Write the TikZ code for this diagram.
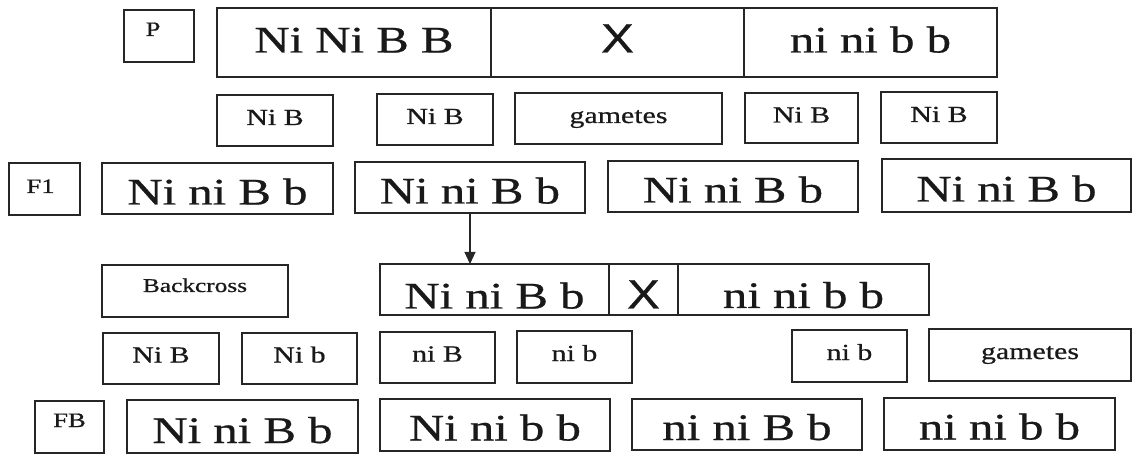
\documentclass[tikz,border=0pt]{standalone}
\usepackage{fontspec}
\usetikzlibrary{arrows.meta}
\newfontfamily\genefont[FakeStretch=1.3,FakeBold=0.7]{Liberation Serif}
\newfontfamily\signfont[FakeStretch=1.2,FakeBold=0.7]{Liberation Sans}
% \cell[options]{name}{x1}{y1}{x2}{y2}{text}: a framed cell spanning the given corners
\newcommand\cell[7][]{%
  \node[cellbox,#1,minimum width={#5-#3},minimum height={#6-#4}] (#2)
    at ({(#3+#5)/2},{(#4+#6)/2}) {#7};}
\begin{document}
\begin{tikzpicture}[x=1pt,y=-1pt,
  cellbox/.style={draw=black!85,line width=1.2pt,inner sep=0pt,outer sep=0pt,text=black!90},
  sink/.style={text height=#1,text depth=0pt},
  genotype/.style={font=\genefont\fontsize{37.5}{40}\selectfont},
  gamete/.style={font=\genefont\fontsize{23}{26}\selectfont},
  tag/.style={font=\genefont\fontsize{20.5}{22}\selectfont},
  crosssign/.style={font=\signfont\fontsize{41}{44}\selectfont},
  link/.style={draw=black!85,line width=1.2pt,-{Triangle[length=12pt,width=11pt]}}]
\useasboundingbox (0,0) rectangle (1135,454);

% parental cross
\cell[tag,sink=0pt]{tagP}{124}{10}{194}{62}{\hspace*{-12pt}P}
\cell[genotype,sink=20pt]{pA}{217}{8}{491}{77}{Ni Ni B B}
\cell[crosssign,sink=20pt]{pX}{491}{8}{744}{77}{X}
\cell[genotype,sink=20pt]{pB}{744}{8}{997}{77}{ni ni b b}

% parental gametes
\cell[gamete,sink=9pt]{g1}{217}{95}{333}{146}{Ni B}
\cell[gamete,sink=9pt]{g2}{377}{94}{493}{145}{Ni B}
\cell[gamete,sink=9pt]{g3}{515}{93}{722}{144}{gametes}
\cell[gamete,sink=9pt]{g4}{745}{93}{858}{143}{Ni B}
\cell[gamete,sink=9pt]{g5}{881}{92}{997}{143}{Ni B}

% F1 generation
\cell[tag,sink=8pt]{tagF}{9}{163}{80}{215}{\hspace*{-8pt}F1}
\cell[genotype,sink=32pt]{f1}{102}{163}{333}{214}{Ni ni B b}
\cell[genotype,sink=32pt]{f2}{355}{162}{585}{213}{Ni ni B b}
\cell[genotype,sink=32pt]{f3}{608}{161}{858}{212}{Ni ni B b}
\cell[genotype,sink=32pt]{f4}{882}{159}{1131}{212}{Ni ni B b}

% backcross
\cell[tag,font=\genefont\fontsize{19.5}{21}\selectfont,sink=2pt]{bc}{102}{265}{288}{317}{Backcross}
\cell[genotype,sink=38pt]{cA}{380}{264}{609}{315}{Ni ni B b}
\cell[crosssign,sink=38pt]{cX}{609}{264}{678}{315}{X}
\cell[genotype,sink=37pt]{cB}{678}{264}{929}{315}{ni ni b b}
\draw[link] (f2.south) -- (f2.south |- cA.north);

% backcross gametes
\cell[gamete,sink=8pt]{h1}{103}{333}{219}{384}{Ni B}
\cell[gamete,sink=8pt]{h2}{242}{333}{357}{384}{Ni b}
\cell[gamete,sink=8pt]{h3}{380}{332}{495}{383}{ni B}
\cell[gamete,sink=8pt]{h4}{517}{331}{632}{383}{ni b}
\cell[gamete,sink=8pt]{h5}{792}{330}{907}{382}{ni b}
\cell[gamete,sink=8pt]{h6}{929}{329}{1131}{381}{gametes}

% backcross progeny
\cell[tag,sink=0pt]{tagB}{35}{401}{104}{453}{FB}
\cell[genotype,sink=33pt]{b1}{127}{400}{358}{453}{Ni ni B b}
\cell[genotype,sink=31pt]{b2}{380}{399}{610}{451}{Ni ni b b}
\cell[genotype,sink=31pt]{b3}{632}{399}{862}{450}{ni ni B b}
\cell[genotype,sink=31pt]{b4}{884}{398}{1115}{450}{ni ni b b}
\end{tikzpicture}
\end{document}
